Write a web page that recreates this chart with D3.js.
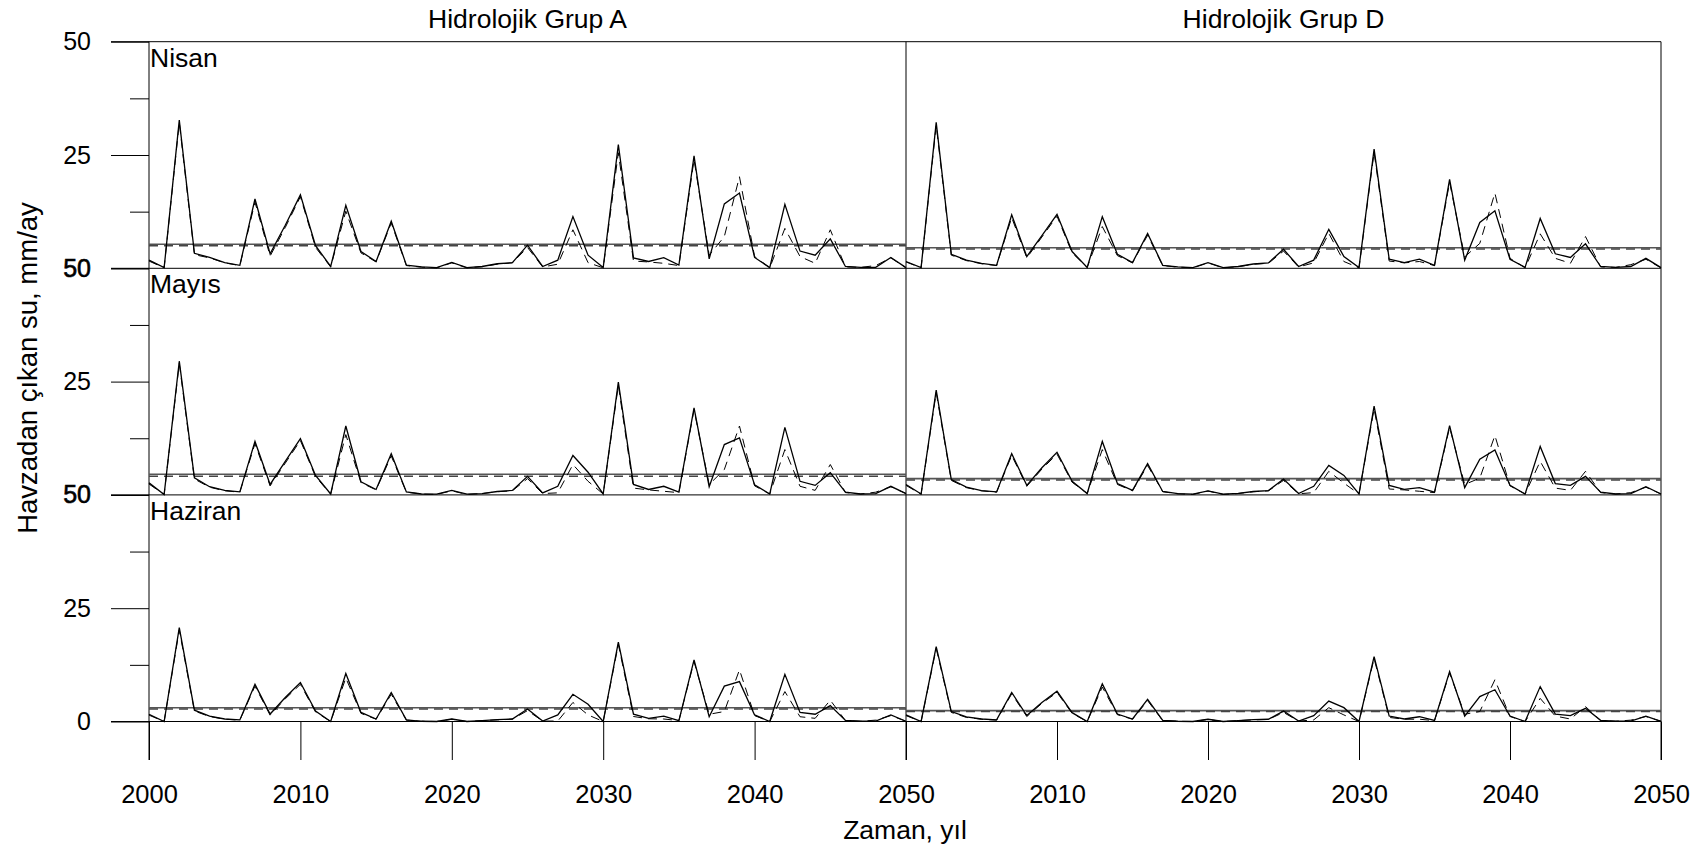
<!DOCTYPE html>
<html>
<head>
<meta charset="utf-8">
<script src="https://cdn.jsdelivr.net/npm/d3@7"></script>
<style>
  body { margin: 0; background: #fff; }
  svg { display: block; }
  text { font-family: Arial, "Liberation Sans", sans-serif; fill: #000; }
</style>
</head>
<body>
<svg id="chart" width="1708" height="850"></svg>
<script>
// ---- data ---------------------------------------------------------------
const years = d3.range(2000, 2051);
const groups = ["Hidrolojik Grup A", "Hidrolojik Grup D"];
const months = ["Nisan", "Mayıs", "Haziran"];
const yearTicks = [2000, 2010, 2020, 2030, 2040, 2050];
const valueTicks = [0, 25, 50];
const minorValueTicks = [12.5, 37.5];

// runoff, mm/ay — solid series (A group)
const nisanA = [1.8,0.15,32.7,3.3,2.4,1.25,0.66,15.3,3.2,9.5,16.2,5.0,0.4,13.9,3.7,1.5,10.4,0.7,0.3,0.15,1.3,0.15,0.4,1.0,1.25,5.1,0.4,1.8,11.4,2.9,0.15,27.3,2.3,1.5,2.35,0.7,24.8,2.1,14.2,16.6,2.4,0.15,14.1,3.8,2.9,6.5,0.4,0.2,0.2,2.4,0.15];
const mayisA = [2.65,0.1,29.5,3.75,1.8,1.0,0.66,11.8,2.3,7.4,12.4,4.3,0.2,15.2,2.9,1.2,9.1,0.66,0.2,0.15,1.0,0.15,0.3,0.75,1.0,4.1,0.45,1.9,8.7,5.0,0.2,24.9,2.3,1.2,1.9,0.6,19.2,1.8,11.1,12.6,2.2,0.2,14.9,3.0,2.1,4.9,0.6,0.2,0.3,1.9,0.3];
const haziranA = [1.6,0.0,20.7,2.5,1.2,0.55,0.35,8.2,1.65,5.3,8.6,2.3,0.0,10.6,2.0,0.55,6.4,0.35,0.05,0.0,0.55,0.0,0.2,0.4,0.55,2.75,0.1,1.45,6.0,3.8,0.0,17.5,1.6,0.7,1.2,0.2,13.6,1.05,7.8,8.8,1.45,0.0,10.4,2.0,1.6,3.5,0.25,0.05,0.1,1.45,0.05];
// dashed series (A group)
const nisanADashed = [1.6,0.1,32.2,3.0,2.3,1.2,0.6,14.6,2.7,9.0,15.8,4.6,0.3,12.6,3.4,1.4,10.0,0.6,0.25,0.1,1.2,0.1,0.35,0.9,1.2,4.6,0.3,0.9,8.5,1.25,0.1,25.5,1.6,1.4,1.1,0.6,24.0,2.9,7.0,20.2,2.6,0.1,8.8,2.6,1.1,8.5,0.3,0.2,0.6,2.3,0.1];
const mayisADashed = [2.4,0.1,29.0,3.5,1.7,0.9,0.6,11.3,2.0,7.0,12.0,4.0,0.2,13.3,2.7,1.1,8.6,0.6,0.2,0.1,0.9,0.1,0.3,0.7,0.9,3.6,0.3,0.45,6.7,3.0,0.2,24.2,1.5,1.1,0.8,0.5,18.8,2.3,5.6,15.2,2.0,0.2,10.0,1.9,1.0,6.7,0.5,0.2,0.6,1.8,0.3];
const haziranADashed = [1.4,0.0,20.2,2.3,1.1,0.5,0.3,7.8,1.4,5.0,8.2,2.1,0.0,9.6,1.8,0.5,6.0,0.3,0.05,0.0,0.5,0.0,0.2,0.35,0.5,2.4,0.1,0.1,4.2,1.45,0.0,17.0,1.1,0.6,0.55,0.2,13.2,1.6,2.2,11.4,1.3,0.0,6.6,1.05,0.7,4.7,0.2,0.05,0.3,1.3,0.05];

// solid series (D group)
const nisanD = [1.5,0.15,32.2,3.1,1.8,1.1,0.66,11.8,2.6,7.2,11.9,3.7,0.2,11.4,3.1,1.25,7.7,0.66,0.3,0.15,1.25,0.15,0.4,0.95,1.2,4.2,0.4,1.8,8.6,2.6,0.15,26.3,2.0,1.25,2.0,0.66,19.6,1.8,10.1,12.7,2.0,0.2,11.0,3.2,2.4,5.4,0.4,0.2,0.4,2.2,0.15];
const mayisD = [2.3,0.2,23.1,3.4,1.7,0.95,0.66,9.1,2.1,6.0,9.4,3.0,0.3,11.8,2.5,1.0,6.9,0.75,0.3,0.15,0.9,0.15,0.35,0.75,0.95,3.5,0.3,1.9,6.5,4.3,0.2,19.6,2.1,1.2,1.6,0.6,15.3,1.6,7.9,9.9,2.1,0.2,10.7,2.5,2.1,4.1,0.6,0.2,0.3,1.8,0.2];
const haziranD = [1.45,0.0,16.5,2.2,1.0,0.55,0.35,6.4,1.3,4.2,6.7,1.95,0.0,8.3,1.65,0.55,4.9,0.25,0.05,0.0,0.5,0.0,0.2,0.4,0.5,2.3,0.1,1.3,4.5,3.05,0.0,14.3,1.2,0.55,1.05,0.25,11.0,1.2,5.5,7.0,1.2,0.0,7.7,1.65,1.3,2.9,0.25,0.05,0.1,1.2,0.05];
// dashed series (D group)
const nisanDDashed = [1.4,0.1,31.6,2.9,1.7,1.0,0.6,11.2,2.3,6.9,11.5,3.4,0.2,9.2,2.8,1.2,7.3,0.6,0.25,0.1,1.2,0.1,0.35,0.9,1.1,3.8,0.3,1.2,7.7,1.5,0.1,25.6,1.6,1.2,1.5,0.6,19.0,2.5,5.5,16.6,2.2,0.1,7.6,2.2,1.1,7.0,0.3,0.2,0.8,2.0,0.1];
const mayisDDashed = [2.1,0.15,22.6,3.2,1.6,0.9,0.6,8.7,1.9,5.7,9.0,2.8,0.3,10.0,2.3,0.9,6.5,0.7,0.25,0.1,0.85,0.1,0.3,0.7,0.9,3.2,0.25,0.5,5.2,2.6,0.2,19.0,1.3,1.1,0.8,0.5,14.9,2.3,3.7,13.1,2.0,0.2,7.4,1.5,1.0,5.2,0.5,0.2,0.5,1.7,0.2];
const haziranDDashed = [1.3,0.0,16.1,2.0,0.9,0.5,0.3,6.1,1.1,4.0,6.4,1.8,0.0,7.6,1.5,0.5,4.6,0.2,0.05,0.0,0.45,0.0,0.2,0.35,0.45,2.0,0.1,0.35,3.05,1.45,0.0,13.9,0.9,0.5,0.5,0.2,10.7,1.6,2.2,9.2,1.1,0.0,5.1,1.2,0.55,3.3,0.2,0.05,0.3,1.1,0.05];

// long-term averages per month: [solid, dashed]
const meansA = [[5.3, 5.0], [4.55, 4.1], [3.05, 2.75]];
const meansD = [[4.55, 4.26], [3.6, 3.3], [2.4, 2.2]];

const solidA = [nisanA, mayisA, haziranA];
const dashedA = [nisanADashed, mayisADashed, haziranADashed];
const solidD = [nisanD, mayisD, haziranD];
const dashedD = [nisanDDashed, mayisDDashed, haziranDDashed];

// ---- layout -------------------------------------------------------------
const svg = d3.select("#chart");
const plotLeft = 149, plotMid = 906, plotRight = 1661;
const plotTop = 41.7, bandH = 226.6;
const tickBottom = 760, axisLineStart = 111;
const FONT = "Arial, 'Liberation Sans', sans-serif";

const xScales = [
  d3.scaleLinear().domain([2000, 2050]).range([plotLeft, plotMid]),
  d3.scaleLinear().domain([2000, 2050]).range([plotMid, plotRight])
];
const yScales = months.map((m, k) =>
  d3.scaleLinear().domain([0, 50]).range([plotTop + (k + 1) * bandH, plotTop + k * bandH]));

const panels = [
  { x: xScales[0], solid: solidA, dashed: dashedA, means: meansA },
  { x: xScales[1], solid: solidD, dashed: dashedD, means: meansD }
];

// band boundary lines across both panels
const boundaryYs = [yScales[0](50)].concat(yScales.map(y => y(0)));
svg.append("g").selectAll("line").data(boundaryYs).join("line")
  .attr("x1", axisLineStart).attr("x2", plotRight)
  .attr("y1", d => d).attr("y2", d => d)
  .attr("stroke", "#000").attr("stroke-width", 1);

// vertical frame lines
svg.append("g").selectAll("line").data([plotLeft, plotMid, plotRight]).join("line")
  .attr("x1", d => d).attr("x2", d => d)
  .attr("y1", plotTop).attr("y2", tickBottom)
  .attr("stroke", "#000").attr("stroke-width", 1);

// y axes, one per month band; the zero of an upper band shares its place
// with the 50 of the band below, so only the 50 is written there
yScales.forEach((y, k) => {
  const last = k === yScales.length - 1;
  const g = svg.append("g").attr("transform", `translate(${plotLeft},0)`);
  g.call(d3.axisLeft(y).tickValues(valueTicks).tickSize(38).tickPadding(20)
    .tickFormat(d => (d === 0 && !last) ? "" : String(d)));
  g.select(".domain").remove();
  g.selectAll("text").style("font-size", "25px").style("font-family", FONT);
  g.selectAll("text").filter(d => d === 50 && k > 0)
    .style("stroke", "#000").style("stroke-width", 0.6);
  const gm = svg.append("g").attr("transform", `translate(${plotLeft},0)`);
  gm.call(d3.axisLeft(y).tickValues(minorValueTicks).tickSize(19).tickFormat(""));
  gm.select(".domain").remove();
});

// x axes along the bottom band
xScales.forEach((x, p) => {
  const g = svg.append("g").attr("transform", `translate(0,${yScales[2](0)})`);
  g.call(d3.axisBottom(x).tickValues(yearTicks).tickSize(tickBottom - yScales[2](0)).tickPadding(25)
    .tickFormat(d => (p === 1 && d === 2000) ? "" : String(d)));
  g.select(".domain").remove();
  g.selectAll("text").style("font-size", "25.5px").style("font-family", FONT);
});

// mean lines and series
panels.forEach(panel => {
  const x = panel.x;
  months.forEach((m, k) => {
    const y = yScales[k];
    const [mSolid, mDashed] = panel.means[k];
    svg.append("line")
      .attr("x1", x(2000)).attr("x2", x(2050))
      .attr("y1", y(mSolid)).attr("y2", y(mSolid))
      .attr("stroke", "#555").attr("stroke-width", 1.6);
    svg.append("line")
      .attr("x1", x(2000)).attr("x2", x(2050))
      .attr("y1", y(mDashed)).attr("y2", y(mDashed))
      .attr("stroke", "#444").attr("stroke-width", 1.6)
      .attr("stroke-dasharray", "9,6");

    const line = d3.line().x((d, i) => x(years[i])).y(d => y(d));
    svg.append("path").datum(panel.dashed[k])
      .attr("d", line).attr("fill", "none")
      .attr("stroke", "#000").attr("stroke-width", 1)
      .attr("stroke-dasharray", "9,6");
    svg.append("path").datum(panel.solid[k])
      .attr("d", line).attr("fill", "none")
      .attr("stroke", "#000").attr("stroke-width", 1.3);
  });
});

// month labels
svg.append("g").selectAll("text").data(months).join("text")
  .attr("x", plotLeft + 1).attr("y", (d, k) => yScales[k](50) + 25)
  .style("font-size", "26.5px").text(d => d);

// panel titles
svg.append("g").selectAll("text").data(groups).join("text")
  .attr("x", (d, p) => (xScales[p](2000) + xScales[p](2050)) / 2)
  .attr("y", 28).attr("text-anchor", "middle")
  .style("font-size", "26.5px").text(d => d);

// axis titles
svg.append("text")
  .attr("x", (plotLeft + plotRight) / 2).attr("y", 839)
  .attr("text-anchor", "middle").style("font-size", "26.5px")
  .text("Zaman, yıl");
svg.append("text")
  .attr("transform", "translate(37,368) rotate(-90)")
  .attr("text-anchor", "middle").style("font-size", "27.5px")
  .text("Havzadan çıkan su, mm/ay");
</script>
</body>
</html>
